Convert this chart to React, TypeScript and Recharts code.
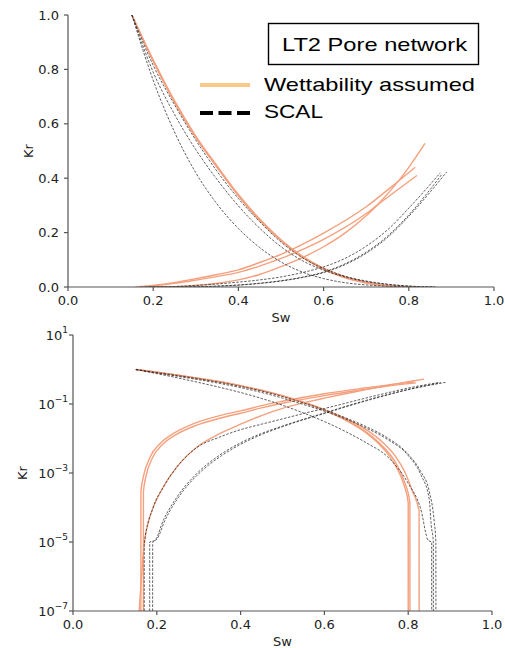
import { LineChart, Line, XAxis, YAxis, Label } from "recharts";

type Pt = [number, number];

// [Sw, Kr] pairs
const wettKro1: Pt[] = [[0.15, 1], [0.2, 0.83], [0.25, 0.68], [0.3, 0.55], [0.35, 0.44], [0.4, 0.335], [0.45, 0.245], [0.5, 0.17], [0.55, 0.11], [0.6, 0.065], [0.65, 0.034], [0.7, 0.0145], [0.74, 0.0052], [0.77, 0.0016], [0.79, 0.00045], [0.8, 0.00014], [0.8001, 1e-7]];
const wettKro2: Pt[] = [[0.15, 1], [0.2, 0.835], [0.25, 0.685], [0.3, 0.555], [0.35, 0.445], [0.4, 0.34], [0.45, 0.25], [0.5, 0.174], [0.55, 0.113], [0.6, 0.068], [0.65, 0.036], [0.7, 0.0155], [0.74, 0.0058], [0.77, 0.002], [0.79, 0.0006], [0.804, 0.00014], [0.8041, 1e-7]];
const wettKro3: Pt[] = [[0.15, 1], [0.2, 0.83], [0.25, 0.68], [0.3, 0.55], [0.35, 0.44], [0.4, 0.335], [0.45, 0.245], [0.5, 0.172], [0.55, 0.113], [0.6, 0.069], [0.65, 0.038], [0.7, 0.018], [0.74, 0.0075], [0.77, 0.003], [0.79, 0.0012], [0.81, 0.0003], [0.826, 0.00008], [0.8261, 1e-7]];
const wettKrw1: Pt[] = [[0.162, 1e-7], [0.1621, 0.00029], [0.168, 0.00078], [0.184, 0.0029], [0.208, 0.0072], [0.24, 0.014], [0.288, 0.027], [0.35, 0.046], [0.4, 0.063], [0.45, 0.09], [0.5, 0.12], [0.6, 0.198], [0.7, 0.295], [0.776, 0.39], [0.815, 0.44]];
const wettKrw2: Pt[] = [[0.168, 1e-7], [0.1681, 0.00029], [0.174, 0.00078], [0.19, 0.0028], [0.214, 0.0068], [0.246, 0.013], [0.294, 0.024], [0.355, 0.04], [0.4, 0.054], [0.45, 0.077], [0.5, 0.105], [0.6, 0.175], [0.7, 0.27], [0.725, 0.3], [0.819, 0.41]];
const wettKrw3: Pt[] = [[0.158, 1e-7], [0.17, 0.000009], [0.18, 0.000038], [0.192, 0.000105], [0.216, 0.0004], [0.248, 0.0015], [0.296, 0.0057], [0.351, 0.014], [0.4, 0.026], [0.45, 0.046], [0.5, 0.075], [0.55, 0.108], [0.6, 0.148], [0.65, 0.198], [0.7, 0.262], [0.725, 0.3], [0.776, 0.39], [0.8, 0.44], [0.838, 0.528]];

const scalKro1: Pt[] = [[0.15, 1], [0.2, 0.76], [0.25, 0.57], [0.3, 0.42], [0.35, 0.305], [0.4, 0.215], [0.45, 0.145], [0.5, 0.092], [0.55, 0.055], [0.6, 0.031], [0.65, 0.016], [0.7, 0.0075], [0.75, 0.003], [0.8, 0.0005], [0.83, 0.00009], [0.848, 0.000011], [0.856, 0.00001], [0.8561, 1e-7]];
const scalKro2: Pt[] = [[0.15, 1], [0.2, 0.79], [0.25, 0.635], [0.3, 0.505], [0.35, 0.395], [0.4, 0.298], [0.45, 0.216], [0.5, 0.148], [0.55, 0.097], [0.6, 0.062], [0.65, 0.037], [0.7, 0.02], [0.75, 0.0095], [0.8, 0.0032], [0.83, 0.0009], [0.85, 0.00018], [0.855, 0.00003], [0.86, 0.00001], [0.8601, 1e-7]];
const scalKro3: Pt[] = [[0.15, 1], [0.2, 0.815], [0.25, 0.67], [0.3, 0.54], [0.35, 0.425], [0.4, 0.325], [0.45, 0.24], [0.5, 0.165], [0.55, 0.108], [0.6, 0.068], [0.65, 0.04], [0.7, 0.022], [0.75, 0.0105], [0.8, 0.0035], [0.83, 0.0011], [0.85, 0.0003], [0.862, 0.00004], [0.866, 0.00001], [0.8661, 1e-7]];
const scalKrw1: Pt[] = [[0.17, 1e-7], [0.1701, 0.000009], [0.192, 0.000105], [0.216, 0.0004], [0.248, 0.0015], [0.296, 0.0055], [0.35, 0.011], [0.4, 0.018], [0.45, 0.026], [0.5, 0.037], [0.55, 0.053], [0.6, 0.074], [0.65, 0.105], [0.7, 0.15], [0.75, 0.21], [0.8, 0.29], [0.874, 0.42]];
const scalKrw2: Pt[] = [[0.183, 1e-7], [0.1831, 0.00001], [0.195, 0.000011], [0.216, 0.000044], [0.248, 0.0002], [0.296, 0.00098], [0.35, 0.0033], [0.4, 0.0075], [0.45, 0.014], [0.5, 0.023], [0.55, 0.036], [0.6, 0.055], [0.65, 0.085], [0.7, 0.128], [0.75, 0.187], [0.8, 0.265], [0.878, 0.415]];
const scalKrw3: Pt[] = [[0.19, 1e-7], [0.1901, 0.00001], [0.2, 0.000012], [0.22, 0.000044], [0.252, 0.0002], [0.3, 0.00095], [0.355, 0.0032], [0.4, 0.0068], [0.45, 0.013], [0.5, 0.022], [0.55, 0.035], [0.6, 0.053], [0.65, 0.082], [0.7, 0.124], [0.75, 0.182], [0.8, 0.26], [0.889, 0.423]];

const wettCurves = [wettKro1, wettKro2, wettKro3, wettKrw1, wettKrw2, wettKrw3];
const scalCurves = [scalKro1, scalKro2, scalKro3, scalKrw1, scalKrw2, scalKrw3];

const SW_TICKS = [0, 0.2, 0.4, 0.6, 0.8, 1];
const KR_TICKS = [0, 0.2, 0.4, 0.6, 0.8, 1];
const LOG_TICKS = [1e-7, 1e-5, 1e-3, 1e-1, 10];

const ORANGE = "#f4a07e";
const SCAL = "#2b2b2b";
const AXIS = "#555";
const TEXT = "#222";
const FONT = "'DejaVu Sans', sans-serif";
const SANS = "'Liberation Sans', Arial, sans-serif";

const toPts = (arr: Pt[]) => arr.map(([sw, kr]) => ({ sw, kr }));

function LogTick({ x, y, payload }: any) {
    const exp = Math.round(Math.log10(payload.value));
    return (
        <text x={x} y={y} textAnchor="end" fill={TEXT} fontFamily={FONT} fontSize={13}>
            <tspan dy={5}>10</tspan>
            <tspan dy={-7} fontSize={9}>
                {exp < 0 ? `\u2212${-exp}` : exp}
            </tspan>
        </text>
    );
}

const xTitle = (offset: number) => ({ viewBox }: any) => (
    <text
        x={viewBox.x + viewBox.width / 2}
        y={viewBox.y + viewBox.height - offset}
        textAnchor="middle"
        fill={TEXT}
        fontFamily={FONT}
        fontSize={13}
    >
        Sw
    </text>
);

const yTitle = (cx: number) => ({ viewBox }: any) => {
    const cy = viewBox.y + viewBox.height / 2;
    return (
        <text
            x={cx}
            y={cy}
            transform={`rotate(-90 ${cx} ${cy})`}
            textAnchor="middle"
            dominantBaseline="central"
            fill={TEXT}
            fontFamily={FONT}
            fontSize={13}
        >
            Kr
        </text>
    );
};

function KrPanel({ log }: { log: boolean }) {
    const tickStyle = { fill: TEXT, fontSize: 13, fontFamily: FONT };
    return (
        <LineChart
            width={505}
            height={log ? 328 : 330}
            margin={{ top: 15, right: log ? 13 : 11, bottom: 0, left: 0 }}
        >
            <XAxis
                dataKey="sw"
                type="number"
                domain={[0, 1]}
                ticks={SW_TICKS}
                tickFormatter={(v: number) => v.toFixed(1)}
                height={log ? 37 : 43}
                stroke={AXIS}
                strokeWidth={1.2}
                tickSize={4}
                tickMargin={5}
                tick={tickStyle}
                allowDataOverflow
            >
                <Label content={xTitle(log ? 2 : 8)} />
            </XAxis>
            <XAxis
                xAxisId="top"
                orientation="top"
                type="number"
                domain={[0, 1]}
                height={0}
                tick={false}
                tickLine={false}
                stroke={AXIS}
                strokeWidth={1.2}
            />
            {log ? (
                <YAxis
                    dataKey="kr"
                    type="number"
                    scale="log"
                    domain={[1e-7, 10]}
                    ticks={LOG_TICKS}
                    width={73}
                    stroke={AXIS}
                    strokeWidth={1.2}
                    tickSize={4}
                    tickMargin={1}
                    tick={<LogTick />}
                    allowDataOverflow
                >
                    <Label content={yTitle(22)} />
                </YAxis>
            ) : (
                <YAxis
                    dataKey="kr"
                    type="number"
                    domain={[0, 1]}
                    ticks={KR_TICKS}
                    tickFormatter={(v: number) => v.toFixed(1)}
                    width={68}
                    stroke={AXIS}
                    strokeWidth={1.2}
                    tickSize={4}
                    tickMargin={5}
                    tick={tickStyle}
                    allowDataOverflow
                >
                    <Label content={yTitle(28)} />
                </YAxis>
            )}
            <YAxis
                yAxisId="right"
                orientation="right"
                type="number"
                domain={[0, 1]}
                width={0}
                tick={false}
                tickLine={false}
                stroke={AXIS}
                strokeWidth={1.2}
            />
            {wettCurves.map((c, i) => (
                <Line
                    key={`w${i}`}
                    data={toPts(c)}
                    dataKey="kr"
                    type="monotone"
                    stroke={ORANGE}
                    strokeWidth={1.4}
                    dot={false}
                    activeDot={false}
                    isAnimationActive={false}
                />
            ))}
            {scalCurves.map((c, i) => (
                <Line
                    key={`s${i}`}
                    data={toPts(c)}
                    dataKey="kr"
                    type="monotone"
                    stroke={SCAL}
                    strokeOpacity={0.85}
                    strokeWidth={0.9}
                    strokeDasharray="2.5 1.5"
                    dot={false}
                    activeDot={false}
                    isAnimationActive={false}
                />
            ))}
        </LineChart>
    );
}

function LegendBox() {
    return (
        <svg
            width={505}
            height={140}
            style={{ position: "absolute", left: 0, top: 0, pointerEvents: "none" }}
        >
            <rect x={268.5} y={23.5} width={210} height={41} fill="#fff" stroke="#000" strokeWidth={1.4} />
            <text x={282} y={51} fontFamily={SANS} fontSize={19} fill="#000" textLength={185} lengthAdjust="spacingAndGlyphs">
                LT2 Pore network
            </text>
            <line x1={200} y1={85} x2={250} y2={85} stroke="#f9c98a" strokeWidth={4} />
            <text x={264} y={91} fontFamily={SANS} fontSize={19} fill="#000" textLength={211} lengthAdjust="spacingAndGlyphs">
                Wettability assumed
            </text>
            <line x1={200} y1={113} x2={250} y2={113} stroke="#000" strokeWidth={4} strokeDasharray="13 5.5" />
            <text x={264} y={118} fontFamily={SANS} fontSize={19} fill="#000" textLength={59} lengthAdjust="spacingAndGlyphs">
                SCAL
            </text>
        </svg>
    );
}

export default function App() {
    return (
        <div style={{ position: "absolute", left: 0, top: 0, width: 505, height: 648, background: "#fff" }}>
            <div style={{ position: "absolute", left: 0, top: 0 }}>
                <KrPanel log={false} />
            </div>
            <LegendBox />
            <div style={{ position: "absolute", left: 0, top: 320 }}>
                <KrPanel log={true} />
            </div>
        </div>
    );
}
